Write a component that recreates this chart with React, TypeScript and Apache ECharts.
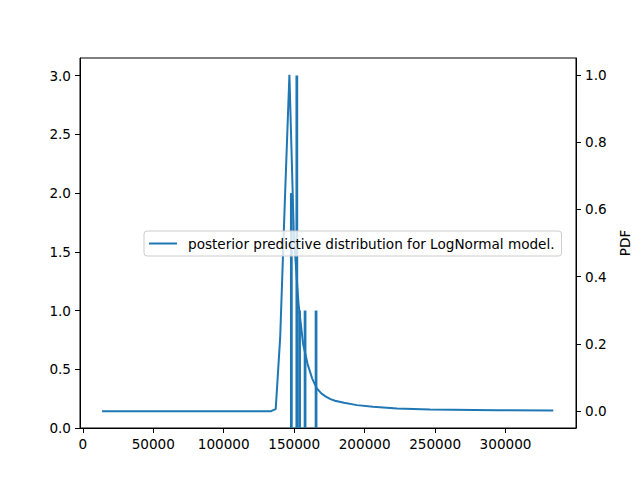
import React, { useEffect, useRef } from 'react';
import * as echarts from 'echarts';

// histogram of observed values (left axis, counts)
const binEdges = [147000, 148950, 150900, 152850, 154800, 156750, 158700, 160650, 162600, 164550, 166500];
const binCounts = [2, 0, 3, 1, 0, 1, 0, 0, 0, 1];

// posterior predictive pdf (right axis)
const pdfX = [
  13613, 133619, 136883, 140077, 143341, 146606, 149799, 153064, 156328, 159521,
  162786, 166050, 169244, 172508, 175773, 178966, 185354, 194580, 205934, 222966,
  246385, 293933, 333888,
];
const pdfY = [
  0, 0, 0.006, 0.22, 0.62, 1.0, 0.52, 0.32, 0.2, 0.14,
  0.097, 0.068, 0.053, 0.043, 0.036, 0.031, 0.025, 0.018, 0.013, 0.008,
  0.005, 0.003, 0.002,
];

const xTicks = [0, 50000, 100000, 150000, 200000, 250000, 300000];
const countTicks = [0, 0.5, 1.0, 1.5, 2.0, 2.5, 3.0];
const pdfTicks = [0, 0.2, 0.4, 0.6, 0.8, 1.0];

const seriesName = 'posterior predictive distribution for LogNormal model.';
const blue = '#1f77b4';
const font = 'DejaVu Sans';
const fs = 13.6;

const App: React.FC = () => {
  const chartRef = useRef<HTMLDivElement>(null);

  useEffect(() => {
    if (!chartRef.current) return;
    const chart = echarts.init(chartRef.current, undefined, { renderer: 'svg' });

    const histData = binCounts.map((c, i) => [binEdges[i], binEdges[i + 1], c]);
    const lineData = pdfX.map((x, i) => [x, pdfY[i]]);

    const axisCommon = {
      axisLine: { show: true, onZero: false, lineStyle: { color: '#000', width: 1 } },
      splitLine: { show: false },
    };
    const labelCommon = { margin: 9, fontFamily: font, fontSize: fs, color: '#000' };

    const option = {
      animation: false,
      grid: {
        left: 80,
        right: 64,
        top: 58,
        bottom: 52,
        show: true,
        borderColor: '#000',
        borderWidth: 1,
      },
      legend: {
        data: [seriesName],
        left: 144,
        top: 231,
        icon: 'rect',
        itemWidth: 28,
        itemHeight: 2,
        padding: [5, 7, 5, 5],
        backgroundColor: 'rgba(255,255,255,0.8)',
        borderColor: '#cccccc',
        borderWidth: 1,
        borderRadius: 3,
        textStyle: { fontFamily: font, fontSize: fs, color: '#000', lineHeight: 15, padding: [0, 0, 0, 6] },
      },
      xAxis: {
        type: 'value',
        min: -2000,
        max: 350000,
        ...axisCommon,
        axisTick: { show: true, length: 5, customValues: xTicks, lineStyle: { color: '#000' } },
        axisLabel: { ...labelCommon, customValues: xTicks, formatter: (v: number) => String(v) },
      },
      yAxis: [
        {
          type: 'value',
          position: 'left',
          min: 0,
          max: 3.15,
          ...axisCommon,
          axisTick: { show: true, length: 5, customValues: countTicks, lineStyle: { color: '#000' } },
          axisLabel: { ...labelCommon, customValues: countTicks, formatter: (v: number) => v.toFixed(1) },
        },
        {
          type: 'value',
          position: 'right',
          min: -0.05,
          max: 1.05,
          name: 'PDF',
          nameLocation: 'middle',
          nameRotate: 90,
          nameGap: 40,
          nameTextStyle: { fontFamily: font, fontSize: fs, color: '#000' },
          ...axisCommon,
          axisTick: { show: true, length: 5, customValues: pdfTicks, lineStyle: { color: '#000' } },
          axisLabel: { ...labelCommon, customValues: pdfTicks, formatter: (v: number) => v.toFixed(1) },
        },
      ],
      series: [
        {
          name: 'observed',
          type: 'custom',
          xAxisIndex: 0,
          yAxisIndex: 0,
          data: histData,
          encode: { x: [0, 1], y: 2 },
          renderItem: (_params: any, api: any) => {
            const c = api.value(2);
            if (!c) return null;
            const p0 = api.coord([api.value(0), c]);
            const p1 = api.coord([api.value(1), 0]);
            return {
              type: 'rect',
              shape: { x: p0[0], y: p0[1], width: p1[0] - p0[0], height: p1[1] - p0[1] },
              style: { fill: blue },
            };
          },
        },
        {
          name: seriesName,
          type: 'line',
          xAxisIndex: 0,
          yAxisIndex: 1,
          data: lineData,
          symbol: 'none',
          lineStyle: { color: blue, width: 2 },
          itemStyle: { color: blue },
        },
      ],
    };

    chart.setOption(option);

    return () => {
      chart.dispose();
    };
  }, []);

  return (
    <div
      ref={chartRef}
      style={{ position: 'fixed', left: 0, top: 0, width: '640px', height: '480px', background: '#fff' }}
    />
  );
};

export default App;
